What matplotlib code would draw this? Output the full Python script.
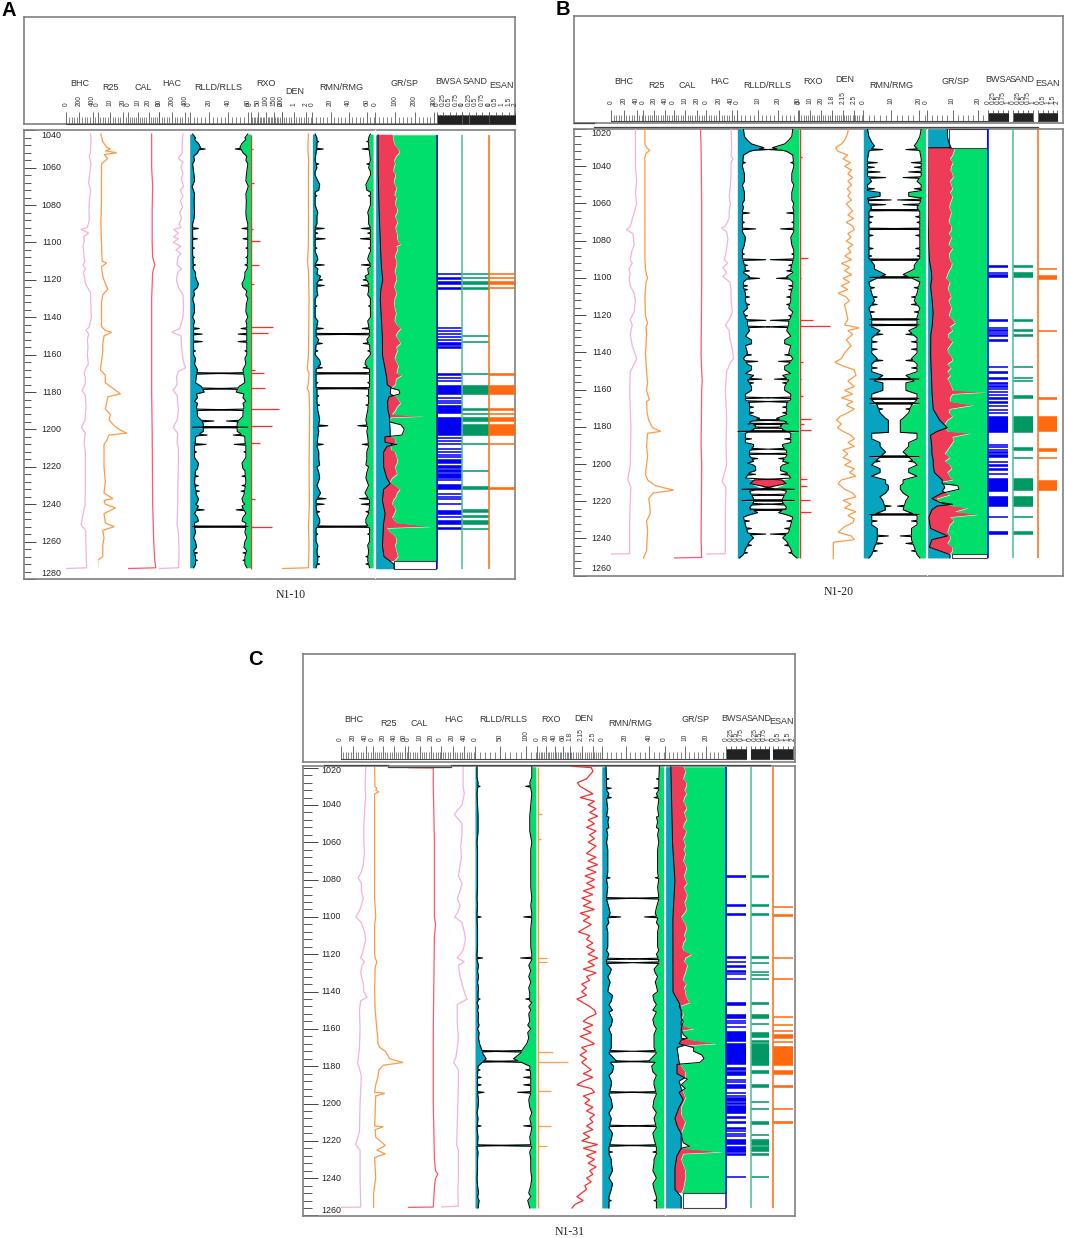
import numpy as np
import matplotlib
matplotlib.use('Agg')
import matplotlib.pyplot as plt
from matplotlib.lines import Line2D
from matplotlib.patches import Rectangle
from matplotlib.ticker import MultipleLocator

plt.rcParams['font.family'] = ['Liberation Sans', 'DejaVu Sans']

W, H = 1065, 1238
TEAL, GREEN, RED_FILL = '#08A3BF', '#00DF6C', '#EE3B58'
PINK, ORANGE, RED, CAL_RED = '#F8B0DA', '#FF9A45', '#FF2A2A', '#FF5A68'
BLUE, SAND_G, ESAN_O = '#0000F0', '#009966', '#FF6A10'

# well N1-10: (depth, value) vertices
A_BHC = [(1042,370),(1046,375),(1052,365),(1054,350),(1058,375),(1062,360),(1068,340),(1072,370),(1078,350),(1082,345),(1088,350),(1092,320),(1093,225),(1095,340),(1097,260),(1099,275),(1102,255),(1105,265),(1108,270),(1110,285),(1112,255),(1114,290),(1116,260),(1119,280),(1122,290),(1127,370),(1130,370),(1140,380),(1145,350),(1147,300),(1149,340),(1152,320),(1156,330),(1160,320),(1165,335),(1168,290),(1170,270),(1172,290),(1176,285),(1179,240),(1182,290),(1188,300),(1195,285),(1199,230),(1202,290),(1207,270),(1212,290),(1220,290),(1232,290),(1240,285),(1251,225),(1254,295),(1262,300),(1270,305),(1274,310),(1274.4,0)]
A_R25 = [(1042,2.5),(1046,4),(1049,7),(1050,10),(1051,6),(1052,15),(1053,5),(1055,8),(1058,3),(1070,3),(1078,3),(1090,2.5),(1100,3),(1110,3.5),(1111,7),(1113,3),(1118,4),(1122,6),(1125,8),(1128,4),(1132,3),(1140,3),(1145,3),(1147,6),(1148,11),(1150,5),(1154,4),(1158,4),(1164,3),(1168,2),(1171,6),(1175,6),(1178,12),(1181,18),(1182.5,8),(1186,7),(1189,6),(1192,10),(1195,9),(1198,13),(1200,17),(1202,23),(1203,9),(1206,7),(1208,5),(1212,5),(1220,5),(1228,6),(1234,5),(1237,12),(1238,5),(1240,6),(1242,14),(1245,5),(1250,6),(1252,13),(1254,4),(1258,5),(1262,4),(1268,4),(1270,0),(1274,0)]
A_CAL = [(1042,23),(1060,23),(1070,24),(1082,23.5),(1100,23.5),(1108,24),(1112,26),(1116,24),(1130,23),(1180,23),(1200,23.5),(1240,24),(1260,25),(1270,26),(1274,27),(1274.4,0)]
A_HAC = [(1042,370),(1048,355),(1052,360),(1055,300),(1057,365),(1060,340),(1063,370),(1066,345),(1070,380),(1072,330),(1075,370),(1078,330),(1081,365),(1084,320),(1087,350),(1090,310),(1092,340),(1093,225),(1095,300),(1097,225),(1098,300),(1100,220),(1102,340),(1104,260),(1106,340),(1108,290),(1112,280),(1114,350),(1116,290),(1120,270),(1124,300),(1128,370),(1134,380),(1140,370),(1146,320),(1148,200),(1150,340),(1156,350),(1160,360),(1164,380),(1167,410),(1169,300),(1172,270),(1176,280),(1179,220),(1182,280),(1190,300),(1195,280),(1199,220),(1202,290),(1207,280),(1210,300),(1220,300),(1230,290),(1240,290),(1251,280),(1255,300),(1265,310),(1274,300),(1274.4,0)]
A_RLLD = [(1042,3),(1045,5),(1047,9),(1049,11),(1050,16),(1052,8),(1054,4),(1058,3),(1070,2.5),(1090,3),(1092.5,9),(1094,3),(1097,3),(1098,8),(1100,3),(1106,3),(1110,3.5),(1112,6),(1114,3.5),(1118,6),(1120,7),(1122,9),(1124,8),(1126,4),(1130,3),(1140,3),(1144,4),(1146,10),(1147,4),(1149,13),(1150,4),(1153,13),(1155,4),(1160,4),(1165,5),(1168,8),(1170,40),(1171,7),(1175,6),(1177,12),(1178.2,40),(1180,15),(1181,7),(1185,5),(1188,7),(1189.5,40),(1191,8),(1193,8),(1195,12),(1195.5,25),(1197,14),(1198.5,14),(1198.8,60),(1199.2,14),(1201,14),(1203,18),(1204,6),(1206,6),(1208,17),(1209,5),(1215,5),(1222,6),(1228,5),(1232,6),(1235,7),(1240,6),(1243,15),(1245,5),(1250,5),(1252,60),(1252.5,5),(1258,4),(1265,4),(1268,6),(1272,6),(1274,4)]
A_RLLD_RAG = [(1044,6),(1056,5),(1064,4.5),(1067,5),(1074,5),(1078,4.5),(1084,5),(1087,4.5),(1103,5),(1108,5),(1116,6),(1128,5),(1133,4.5),(1137,5),(1142,5),(1158,6),(1162,6),(1183,8),(1186,8),(1212,7),(1218,9),(1221,8),(1225,9),(1230,9),(1233,10),(1237,9),(1239,8),(1241,9),(1247,8),(1249,9),(1255,6),(1260,6),(1263,7),(1266,8),(1270,8)]
A_RMN = [(1042,3),(1044,5),(1046,7),(1048,5),(1050,12),(1052,4),(1056,3),(1062,3),(1064,3),(1072,7),(1073,3),(1080,3),(1092,3),(1092.5,13),(1094,3),(1097.5,3),(1098,14),(1099,3),(1105,3),(1111.5,3),(1112,13),(1113,3),(1117,5),(1120,11),(1122,5),(1123,13),(1126,5),(1130,3),(1140,3),(1146,12),(1147,4),(1149,60),(1150,4),(1154,11),(1155,4),(1160,3),(1167,11),(1168,4),(1170,60),(1171,4),(1177.5,4),(1178,60),(1179,5),(1185,5),(1190,6),(1198,17),(1199,6),(1204,6),(1208,12),(1209,5),(1220,5),(1230,5),(1237,15),(1238,4),(1240,13),(1241,4),(1245,5),(1248,8),(1252,60),(1253,4),(1260,4),(1265,5),(1270,6),(1274,4)]
A_RMN_RAG = [(1058,7),(1060,5),(1066,5),(1069,8),(1075,5),(1084,6),(1086,5),(1090,5),(1095,6),(1103,5),(1107,5),(1109,6),(1114,6),(1118,9),(1128,6),(1134,5),(1142,6),(1152,7),(1158,6),(1163,8),(1165,9),(1175,6),(1182,7),(1187,8),(1192,7),(1195,8),(1201,7),(1212,7),(1216,7),(1219,8),(1223,7),(1226,8),(1232,7),(1234,9),(1244,8),(1250,8),(1256,6),(1262,6),(1268,8),(1272,8)]
A_RXO_D = [1050,1068,1093,1099,1112,1122,1145,1148.6,1168,1170,1178,1189,1198,1207,1237,1252]
A_RXO_V = [15,24,15,58,56,20,143,113,26,90,92,183,137,61,32,137]
A_DEN = [(1042,2.2),(1050,2.15),(1056,2.22),(1060,2.2),(1080,2.2),(1100,2.2),(1106,2.16),(1110,2.12),(1115,2.2),(1130,2.25),(1150,2.22),(1160,2.2),(1168,2.1),(1170,2.25),(1176,2.18),(1178,2.1),(1180,2.25),(1190,2.3),(1220,2.25),(1240,2.28),(1252,2.2),(1262,2.25),(1274,2.2),(1274.4,0)]
A_SP = [(1042,14),(1060,14),(1080,18),(1100,26),(1112,30),(1120,38),(1125,28),(1130,25),(1140,30),(1150,36),(1160,36),(1168,50),(1172,58),(1176,60),(1178,85),(1179,120),(1181,125),(1182.5,70),(1185,62),(1190,64),(1192,70),(1196,74),(1197.5,130),(1200,147),(1203,135),(1204,48),(1207,50),(1208,110),(1209,60),(1212,42),(1220,42),(1226,58),(1229,75),(1232,42),(1238,36),(1245,50),(1250,42),(1254,40),(1262,36),(1268,44),(1272,95),(1274.5,95)]
A_GR = [(1042,88),(1044,90),(1046,94),(1048,100),(1050,118),(1052,122),(1054,105),(1056,96),(1060,94),(1063,100),(1066,96),(1070,104),(1073,100),(1076,108),(1080,102),(1084,110),(1087,104),(1090,110),(1094,106),(1098,110),(1100,118),(1101,130),(1102,108),(1106,104),(1110,108),(1114,102),(1118,106),(1122,100),(1126,104),(1130,98),(1136,100),(1140,100),(1144,108),(1146,130),(1148,112),(1152,118),(1154,128),(1156,106),(1160,104),(1164,108),(1168,112),(1171,135),(1173,105),(1176,102),(1178,78),(1181,76),(1183,110),(1186,128),(1188,110),(1190,100),(1192,85),(1193,246),(1193.6,80),(1196,72),(1198,74),(1204,76),(1205,100),(1207,105),(1208,82),(1209,78),(1211,80),(1214,105),(1218,110),(1222,105),(1226,85),(1228,75),(1232,125),(1234,110),(1238,90),(1241,95),(1244,100),(1247,85),(1250,110),(1252,280),(1252.8,60),(1255,75),(1258,105),(1264,105),(1268,115),(1270.4,95)]
A_GR_RAG = [(1058,100),(1062,92),(1065,102),(1068,94),(1072,106),(1075,98),(1078,102),(1082,112),(1086,100),(1089,112),(1092,102),(1096,112),(1104,112),(1108,100),(1112,108),(1116,98),(1120,108),(1124,96),(1128,106),(1133,96),(1138,106),(1142,98),(1150,104),(1158,112),(1162,98),(1166,116),(1170,108),(1212,100),(1216,112),(1220,100),(1224,110),(1236,104),(1240,86),(1243,104),(1246,92),(1249,100),(1256,90),(1260,108),(1262,100),(1266,110)]
A_BLANK = [(1270.4,1274.6,95,307)]
A_BWSA = [(1116.2,1117),(1118.5,1119.3),(1120.5,1122),(1123.6,1125),(1145.2,1146),(1147,1147.6),(1148.4,1149),(1150,1150.6),(1151.6,1152.2),(1153.2,1154.6),(1155.4,1156.4),(1170,1171),(1172,1172.6),(1173.4,1174),(1176.2,1181.2),(1182.6,1183.2),(1184,1184.6),(1185.4,1186),(1186.8,1188.4),(1188.8,1191.4),(1193.4,1203.2),(1204,1204.8),(1205.8,1206.4),(1207,1207.6),(1210,1210.6),(1211.4,1212),(1213,1213.6),(1214.4,1215),(1216,1218),(1219,1220.4),(1221,1222.6),(1223.2,1225.8),(1226.6,1227),(1229.2,1231.6),(1234,1234.6),(1235.4,1236),(1236.8,1237.4),(1239.2,1240),(1243,1245),(1246.4,1247),(1248.6,1250.6),(1252.4,1253.2)]
A_SAND = [(1116.2,1117),(1118.6,1119.2),(1120.6,1122),(1123.6,1125),(1149.3,1150),(1152.7,1153.3),(1170,1170.6),(1176.2,1181.2),(1188.8,1189.5),(1191.3,1192),(1193.4,1195.7),(1197.3,1203),(1207,1208),(1221.7,1222.3),(1230.5,1231.6),(1242.6,1244.2),(1246,1246.8),(1248.6,1250.8),(1252.6,1253.3)]
A_ESAN = [(1116.2,1117),(1118.6,1119.2),(1120.6,1122),(1123.6,1124.4),(1170,1170.8),(1176.2,1181.2),(1188.8,1189.8),(1191.4,1192),(1193.4,1195.7),(1197.3,1203),(1207,1208),(1230.6,1231.6)]

# well N1-20
B_BHC = [(1020,38),(1030,38),(1040,38),(1048,40),(1054,38),(1060,40),(1066,35),(1072,30),(1074,24),(1076,34),(1082,36),(1086,32),(1090,30),(1092,33),(1095,28),(1098,30),(1100,28),(1104,30),(1108,36),(1112,38),(1118,36),(1122,30),(1125,33),(1130,30),(1136,33),(1140,37),(1143,40),(1146,36),(1150,30),(1160,29),(1170,30),(1180,31),(1200,30),(1208,26),(1212,31),(1220,30),(1230,29),(1240,29),(1247.5,29),(1247.7,0)]
B_R25 = [(1020,3),(1028,3),(1030,6),(1031.5,12),(1033,5),(1035,3),(1060,3),(1080,3),(1090,3),(1095,4),(1098,6),(1100,8),(1102,5),(1110,3),(1120,4),(1124,8),(1126,5),(1130,6),(1136,5),(1140,4),(1150,6),(1156,8),(1160,6),(1165,11),(1166,6),(1172,7),(1176,10),(1180,17),(1182,32),(1183,8),(1190,6),(1195,8),(1200,6),(1205,4),(1208,8),(1211,22),(1213.5,56),(1215,18),(1218,10),(1222,12),(1226,13),(1230,6),(1235,8),(1240,7),(1246,6),(1250,0)]
B_CAL = [(1020,23),(1030,23.5),(1060,24),(1100,24),(1105,24),(1140,23.5),(1150,24),(1155,24.5),(1160,24),(1190,23.5),(1200,24),(1240,23.5),(1249.5,24),(1249.8,0)]
B_HAC = [(1020,39),(1030,40),(1034,39),(1036,42),(1038,39),(1044,39),(1050,38),(1056,36),(1060,38),(1064,36),(1068,36),(1072,30),(1073,24),(1075,32),(1079,34),(1084,32),(1088,30),(1090,28),(1092,34),(1094,26),(1097,32),(1099,26),(1102,37),(1106,39),(1112,39),(1118,41),(1122,36),(1125,30),(1128,36),(1132,37),(1138,41),(1143,43),(1145,38),(1150,32),(1160,30),(1175,32),(1190,31),(1200,32),(1209,25),(1212,31),(1225,30),(1240,30),(1247.5,30),(1247.7,0)]
B_RLLD = [(1020,3),(1024,3.5),(1026,5),(1028,7),(1030,13),(1031,15),(1032,6),(1034,3),(1040,2.5),(1050,2.5),(1060,2.5),(1064,2.5),(1065,6),(1066,2.5),(1072,2.5),(1073.5,9),(1075,2.5),(1085,2.5),(1089,2.5),(1090,14),(1091,3),(1095,4),(1096,6),(1097,3),(1099,6),(1100,11),(1102,3),(1105,3),(1108,4),(1112,4),(1118,3),(1121,4),(1122.5,14),(1123,5),(1125,5),(1126,16),(1128,6),(1131,4),(1133,7),(1136,4),(1140,5),(1143,3),(1144.5,10),(1146,5),(1149,7),(1151,4),(1154,12),(1154.5,5),(1158,7),(1162,4),(1164,16),(1165,4),(1166,16),(1167,6),(1170,6),(1173,6),(1175,11),(1176,18),(1177,6),(1178,25),(1179,9),(1180,20),(1181,8),(1182,30),(1183,4),(1188,4),(1190,8),(1191.5,15),(1192.5,6),(1194,18),(1195,6),(1196.5,10),(1199,5),(1201,9),(1204,6),(1207,4),(1208,22),(1210,24),(1213,28),(1214,6),(1216,20),(1218,8),(1219,28),(1220,8),(1221,16),(1223,6),(1224,24),(1225.5,10),(1228,3),(1232,4),(1236,5),(1237,14),(1239,8),(1241,6),(1245,4),(1248,3),(1249.8,1)]
B_RLLD_RAG = [(1038,4),(1044,3.5),(1048,3.5),(1054,3.5),(1058,3.5),(1062,3),(1070,3.5),(1078,4),(1082,3.5),(1087,3.5),(1093,5),(1104,5),(1106,5),(1110,6),(1114,6),(1116,5),(1120,5),(1135,7),(1141,7),(1147,7),(1152,8),(1156,8),(1160,7),(1169,8),(1172,8),(1186,7),(1189,8),(1198,8),(1200,8),(1203,9),(1205,9),(1227,5),(1230,6),(1234,7),(1243,7),(1247,5)]
B_RMN = [(1020,1.5),(1024,2),(1027,3),(1029,4),(1031,7),(1032,2),(1036,1.5),(1040,1.5),(1040.5,4),(1041,1.5),(1045,1.5),(1048,3),(1050,1.5),(1052,4),(1053,1.5),(1056,6),(1057,1.5),(1060,2),(1062,3),(1063.5,20),(1064.5,2),(1068,2),(1073,2),(1073.5,20),(1074.5,2),(1080,2),(1086,2),(1089.5,2),(1090,20),(1091,3),(1095,4),(1096.5,6),(1098,8),(1099.5,20),(1100.5,4),(1102,2),(1108,3),(1112,4),(1116,2),(1121,3),(1122,20),(1123,3),(1125,20),(1126,3),(1128,6),(1130,7),(1132,3),(1134,5),(1136,3),(1140,3),(1143,5),(1144,7),(1146,3),(1150,3),(1152,7),(1154,20),(1155,4),(1158,7),(1162,3),(1164.5,20),(1165,3),(1167,20),(1168,5),(1172,6),(1175,8),(1176,9),(1180,9),(1182.5,9),(1183,3),(1186,3),(1190,6),(1193,8),(1195.5,20),(1197,5),(1200,3),(1204,6),(1206,3),(1208,8),(1211,9),(1215,8),(1217,6),(1219,7),(1222,10),(1224,8),(1226.5,20),(1227,3),(1232,3),(1236,5),(1238,9),(1240,5),(1244,4),(1248,3),(1249.8,2)]
B_RMN_RAG = [(1038,5),(1043,6),(1046,8),(1054,6),(1058,10),(1060.5,8),(1067,3.5),(1070,3),(1077,3.5),(1084,3.5),(1088,3),(1093,4),(1105,4),(1110,5),(1114,5),(1118,4),(1138,5),(1148,5),(1156,7),(1160,7),(1170,7),(1188,6),(1198,6),(1202,6),(1210,8),(1213,9),(1230,5),(1234,5),(1242,7),(1246,5)]
B_RXO_D = [1035,1060,1089,1100,1122.3,1125.4,1145,1154,1163,1175.4,1178,1181,1207.5,1211,1219,1225.4]
B_RXO_V = [2.5,1,8,2,13,28,3,2,3,11,4,11,7,7,10,11]
B_DEN = [(1020,2.32),(1023,2.28),(1026,2.2),(1028,2.1),(1030,1.92),(1032,2.0),(1034,2.3),(1036,2.15),(1038,2.38),(1040,2.2),(1042,2.42),(1044,2.3),(1046,2.45),(1048,2.3),(1050,2.42),(1052,2.28),(1054,2.38),(1056,2.3),(1058,2.42),(1060,2.25),(1062,2.35),(1064,2.45),(1066,2.3),(1068,2.48),(1070,2.25),(1072,2.45),(1074,2.5),(1076,2.3),(1078,2.4),(1080,2.25),(1082,2.45),(1084,2.3),(1086,2.4),(1088,2.2),(1090,2.42),(1092,2.1),(1094,2.35),(1096,2.2),(1098,2.42),(1100,2.15),(1102,2.35),(1104,2.1),(1106,2.3),(1108,2.0),(1110,2.25),(1112,2.35),(1114,2.2),(1118,2.25),(1122,2.3),(1125,2.2),(1126.5,2.65),(1128,2.3),(1130,2.45),(1133,2.25),(1136,2.4),(1140,2.2),(1143,2.1),(1145,1.9),(1147,2.15),(1149,2.5),(1152,2.55),(1155,2.3),(1158,2.5),(1160,2.2),(1162,2.45),(1164,2.1),(1166,2.45),(1168,2.25),(1170,2.5),(1172,2.3),(1174,2.05),(1176,1.95),(1178,2.1),(1180,1.98),(1182,2.15),(1184,2.4),(1186,2.5),(1188,2.3),(1190,2.5),(1192,2.15),(1194,2.3),(1196,2.15),(1198,2.4),(1200,2.2),(1202,2.5),(1204,2.35),(1206,2.55),(1208,2.1),(1210,2.0),(1213,2.2),(1215,2.45),(1217,2.55),(1219,2.15),(1221,2.4),(1223,2.2),(1225,2.55),(1227,2.3),(1229,2.5),(1231,2.45),(1233,2.2),(1236,2.0),(1238,2.4),(1240,2.5),(1241.4,1.85),(1250,1.85)]
B_SP = [(1020,8),(1024,8),(1027,8.5),(1030,9.5),(1030.1,0.4),(1060,0.5),(1080,0.7),(1090,1),(1096,1.8),(1100,2),(1104,1.5),(1110,2),(1118,2.5),(1125,2.2),(1130,1.6),(1140,1.5),(1150,1.8),(1160,2),(1170,2.5),(1176,5),(1180,8),(1182,4),(1184,1.5),(1190,2),(1194,2),(1197,2.5),(1200,2.5),(1204,3),(1208,6),(1210,6),(1211,12),(1213,12.5),(1215,6),(1218,2),(1220,5),(1221,10),(1222,4),(1224,2),(1228,0.8),(1234,1.5),(1238,8),(1240,2),(1244,1),(1248,9),(1250,9)]
B_GR = [(1030,11),(1034,10),(1040,9.5),(1044,10),(1050,9.5),(1056,10),(1060,9),(1065,9.5),(1070,8.5),(1074,9.5),(1080,9),(1085,9.5),(1090,9),(1094,9.5),(1098,8),(1100,7.5),(1104,8.5),(1108,9),(1112,8.5),(1118,9),(1122,10),(1124,11),(1126,9),(1132,8.5),(1136,9),(1140,8.5),(1144,10),(1146,8),(1150,8),(1156,9),(1160,10),(1161,23),(1162,10),(1164,9),(1166,9),(1168,18),(1170,9),(1174,10),(1176,8),(1178,7),(1182,8),(1183,17),(1185,10),(1190,9),(1194,7),(1196,9),(1198,7),(1200,9),(1204,8),(1208,10),(1209,6),(1214,6),(1216,9),(1218,4),(1220,5),(1222,10),(1223,16),(1225,11),(1226.5,20),(1228,9),(1232,9),(1236,8),(1238,9),(1240,9),(1243,9),(1246,10),(1247.7,9)]
B_GR_RAG = [(1032,10.5),(1036,9),(1038,10.2),(1042,9.2),(1046,10.2),(1048,9),(1052,10),(1054,9),(1058,9.6),(1062,8.8),(1067,9),(1072,9.6),(1076,8.6),(1078,9.6),(1082,8.5),(1084,10),(1087,8.6),(1092,9.8),(1096,8.6),(1102,9),(1106,8.2),(1110,9.4),(1116,9.6),(1120,8.6),(1128,10),(1130,8.2),(1134,10),(1138,8),(1142,9.6),(1148,9.4),(1152,9.2),(1154,8),(1158,9.6),(1172,8.6),(1187,10.5),(1192,8),(1202,9.6),(1206,8.8),(1212,7),(1230,10.5),(1234,8.5),(1242,8),(1244,10)]
B_BLANK = [(1020,1030,8.5,23.2),(1247.7,1250,9.7,23.2)]
B_BWSA = [(1093,1093.8),(1096.4,1097.4),(1097.8,1099.5),(1122,1122.8),(1125.9,1126.8),(1127.4,1128),(1128.6,1129.2),(1129.8,1130.8),(1132.6,1133.4),(1146.8,1147.6),(1149.4,1150.8),(1152.6,1154),(1155.7,1156.5),(1157.4,1158),(1158.8,1159.4),(1160.4,1161),(1162,1162.6),(1163.8,1164.6),(1165.6,1166.6),(1168,1168.6),(1170,1170.6),(1171.6,1172.4),(1173.6,1182.2),(1188.7,1189.4),(1190,1190.6),(1191.2,1192),(1192.6,1193.4),(1194,1195.9),(1197.6,1198.2),(1199.6,1200.4),(1201.8,1202.6),(1204.2,1204.8),(1207,1213.8),(1216.4,1222),(1227.2,1228),(1235.2,1237)]
B_SAND = [(1093,1093.8),(1096.4,1099.5),(1122,1122.8),(1127.4,1128),(1129.8,1130.8),(1146.8,1147.6),(1152.6,1153.4),(1154.5,1155.2),(1162.6,1164),(1173.6,1182.2),(1190.4,1192),(1195.6,1196.2),(1207,1213.4),(1216.4,1221.8),(1227.2,1228),(1235.4,1237)]
B_ESAN = [(1094.2,1095),(1098.4,1100.2),(1127.6,1128.4),(1163.6,1164.4),(1174,1181.6),(1191,1192.4),(1195.8,1196.4),(1208,1213.4)]

# well N1-31
C_BHC = [(1020,40),(1030,39),(1036,40),(1040,39),(1045,38),(1052,37),(1060,37),(1066,38),(1072,36),(1076,33),(1079,28),(1082,33),(1086,33),(1090,36),(1095,32),(1098,28),(1100,24),(1103,33),(1108,38),(1112,40),(1118,36),(1122,32),(1124,38),(1126,34),(1130,32),(1136,36),(1140,37),(1143,42),(1145,32),(1150,30),(1160,31),(1170,30),(1176,28),(1178,27),(1185,33),(1200,31),(1215,30),(1222,24),(1225,31),(1240,31),(1254,32),(1255.5,32),(1255.7,0)]
C_R25 = [(1020,4),(1030,4.5),(1031,8),(1032,6),(1033,12),(1034,4),(1060,4),(1090,4),(1100,6),(1104,4),(1120,4),(1122,5),(1124,8),(1127,5),(1140,4),(1150,5),(1160,8),(1165,10),(1168,10),(1170,14),(1172,24),(1174,28),(1176,32),(1178,57),(1179.5,20),(1182,12),(1186,10),(1190,6),(1194,4),(1194.5,23),(1196,6),(1205,5),(1212,4),(1212.5,20),(1214,5),(1218,6),(1222.5,24),(1225,8),(1227,24),(1229,4),(1240,6),(1248,2),(1255.7,2)]
C_CAL = [(1020,0),(1020.2,22),(1030,22),(1060,23),(1080,23),(1100,23),(1104,24),(1110,23),(1160,22),(1200,22),(1230,23),(1236,24),(1238,26),(1240,24),(1245,23),(1255.5,22),(1255.7,0)]
C_HAC = [(1020,38),(1030,38),(1034,40),(1040,36),(1045,23),(1050,36),(1056,36),(1062,34),(1068,35),(1074,32),(1078,30),(1082,36),(1086,33),(1090,28),(1094,33),(1098,28),(1100,24),(1103,36),(1108,40),(1112,42),(1118,38),(1122,28),(1124,40),(1126,30),(1132,33),(1138,38),(1142,42),(1144,45),(1147,28),(1156,28),(1165,30),(1175,26),(1178,22),(1182,30),(1190,30),(1200,29),(1212,28),(1222,27),(1225,30),(1240,30),(1248,29),(1255,30),(1255.5,0)]
C_RLLD = [(1019.5,4),(1025,4),(1028,6),(1030,10),(1031,5),(1034,4),(1060,4),(1090,4),(1098,4),(1100,12),(1101,4),(1120,4),(1122,15),(1123,4),(1135,5),(1145,6),(1146,4),(1150,5),(1160,5),(1165,7),(1168,9),(1171,13),(1172,52),(1173,15),(1176,22),(1177.5,52),(1178.5,12),(1180,6),(1185,5),(1186,12),(1187,5),(1190,12),(1191,5),(1194,18),(1194.6,5),(1205,4),(1212,12),(1213,4),(1222,5),(1222.5,52),(1223.5,4),(1240,4),(1250,5),(1254,7),(1256,6)]
C_RLLD_RAG = [(1040,5),(1046,6),(1054,6),(1064,5),(1070,5),(1076,5),(1084,5),(1094,5),(1106,5),(1112,5),(1116,5),(1126,7),(1129,5),(1132,7),(1138,7),(1141,6),(1144,10),(1148,7),(1152,7),(1156,6),(1158,8),(1162,8),(1182,10),(1198,7),(1202,6),(1208,6),(1216,5),(1218,6),(1226,6),(1230,5),(1236,5),(1244,5),(1248,7),(1252,8)]
C_RMN = [(1019.5,3.5),(1028,4),(1031,8),(1032,4),(1036,8),(1037,4),(1046,4),(1046.5,6),(1052,6),(1053,4),(1060,4),(1076,5),(1079,7),(1080,4),(1089.5,4),(1090,30),(1090.5,4),(1095,6),(1100,16),(1101,5),(1105,4),(1118,4),(1122.5,30),(1123,4),(1124.5,26),(1125,4),(1130,7),(1132,5),(1140,5),(1145,8),(1147,6),(1150,9),(1151,6),(1160,6),(1170,8),(1172,26),(1173,6),(1177,12),(1177.5,30),(1178,7),(1185,6),(1190,8),(1194,30),(1195,6),(1205,6),(1212,30),(1213,6),(1222.5,30),(1223.5,6),(1226,9),(1227,6),(1240,6),(1250,6),(1256,6)]
C_RMN_RAG = [(1026,6),(1034,6),(1042,5),(1049,5),(1056,5),(1064,5),(1068,5),(1072,5),(1084,5),(1098,7),(1103,6),(1108,5),(1112,5),(1116,5),(1120,6),(1128,8),(1135,7),(1137,6),(1142,9),(1149,8),(1155,9),(1158,8),(1163,8),(1166,8),(1175,9),(1180,10),(1183,9),(1188,8),(1198,8),(1202,9),(1208,8),(1216,9),(1219,8),(1230,8),(1232,8),(1236,9),(1243,9),(1246,8),(1252,8)]
C_RXO_D = [1045,1058.4,1121.8,1124,1144,1172.3,1177.5,1193.4,1212,1222.7]
C_RXO_V = [11,8,23,22,5,36,70,32,32,23]
C_DEN_D = [1019.2] + list(range(1020, 1258, 2))
C_DEN_V = [1.85,
           2.45,2.5,2.4,2.3,2.02,2.1,2.3,2.5,2.1,2.55,
           2.35,2.6,2.4,2.65,2.35,2.55,2.3,2.6,2.4,2.55,
           2.35,2.6,2.45,2.3,2.6,2.35,2.65,2.3,2.6,2.25,
           2.55,2.3,2.55,2.2,2.5,2.15,2.45,2.2,2.55,2.1,
           2.4,2.2,2.45,2.25,2.05,2.4,2.3,2.5,2.3,2.55,
           2.35,2.65,2.35,2.55,2.2,2.6,2.3,2.4,2.15,2.3,
           2.15,2.3,2.0,2.2,2.4,2.55,2.6,2.35,2.2,2.5,
           2.2,2.45,2.1,2.35,2.55,2.15,2.3,2.1,2.3,2.15,
           2.3,2.45,2.2,2.5,2.2,2.0,2.45,2.55,2.2,2.4,
           2.25,2.5,2.3,2.55,2.4,2.5,2.3,2.5,2.2,2.4,
           2.15,2.65,2.2,2.6,2.3,2.55,2.35,2.6,2.4,2.5,
           2.3,2.45,2.25,2.3,2.15,2.0,2.2,1.95,1.85]
C_SP = [(1019.5,3),(1060,3.8),(1080,5),(1100,4),(1120,4),(1130,4),(1140,4),(1146,7),(1150,8),(1154,8),(1156,9),(1160,8),(1163,9),(1165,11),(1166,8),(1168,7),(1170,14),(1172,14),(1174,18),(1176,19),(1178,17),(1179,6),(1184,6),(1187,11),(1190,8),(1192,10),(1194,7),(1198,9),(1202,7),(1208,5),(1212,6),(1216,8),(1221,9),(1223,12),(1224,8),(1228,6),(1234,5),(1240,5),(1246,5),(1250,8),(1251,8)]
C_GR = [(1019.5,9),(1024,9.5),(1030,10.5),(1036,9.5),(1040,10),(1046,10),(1052,9),(1056,10),(1060,9.5),(1068,9.5),(1074,10.5),(1080,10),(1086,10),(1090,10.5),(1094,10),(1098,9.5),(1100,8),(1104,10),(1108,10),(1114,9),(1118,9),(1120,13),(1122,10),(1126,11),(1130,10),(1134,9),(1140,10),(1144,11),(1146,12),(1148,7),(1152,9),(1156,8),(1158,8),(1160,14),(1161,8),(1165,8),(1168,25),(1169,9),(1170,6),(1178,7),(1180,8),(1183,10),(1186,10),(1188,7),(1192,8),(1194,9),(1197,10),(1202,8),(1206,8),(1210,10),(1213,9),(1216,8),(1220,8),(1224,8),(1226,28),(1227,9),(1230,8),(1236,10),(1240,10),(1246,9),(1248,8)]
C_GR_RAG = [(1022,10.2),(1026,9),(1028,10.6),(1032,9.6),(1034,10.6),(1038,9),(1042,10.6),(1044,9.4),(1048,10.6),(1050,9.4),(1054,10.4),(1058,9),(1062,10),(1064,9.2),(1066,10),(1070,9),(1072,10),(1076,10),(1078,9.4),(1082,10.8),(1084,9.4),(1088,10.8),(1092,9.6),(1096,10.6),(1102,9),(1106,10.6),(1110,9.4),(1112,10.2),(1116,8.6),(1124,9.5),(1128,10.4),(1132,9.2),(1136,10.4),(1138,9.4),(1142,10.2)]
C_BLANK = [(1248,1256,9,30.9)]
C_BWSA = [(1077.7,1078.4),(1093.2,1094.2),(1098,1099),(1121,1121.8),(1123.8,1124.4),(1126,1126.8),(1128.6,1129.4),(1130,1130.8),(1132.6,1133.4),(1145.5,1147.3),(1151.8,1154.2),(1155,1155.8),(1156.4,1157),(1158.2,1159),(1161,1166.6),(1167.4,1178.6),(1180.4,1182),(1182.6,1184.8),(1186.6,1187.4),(1188,1188.4),(1189.6,1191.6),(1193.8,1194.4),(1195.2,1196),(1196.6,1198.8),(1199.4,1200),(1201,1205.2),(1206.8,1207.6),(1209.4,1210.6),(1212.6,1213.4),(1214,1215),(1215.6,1216.4),(1216.8,1217.2),(1218.8,1221.8),(1222.8,1226),(1226.8,1227.4),(1238.6,1239.4)]
C_SAND = [(1077.7,1078.4),(1093.2,1094.2),(1098,1099),(1121,1121.8),(1124,1124.6),(1129,1129.5),(1130.4,1131),(1132.6,1133.2),(1145.8,1146.6),(1152,1154),(1156.6,1157.2),(1161.6,1164.3),(1166,1166.8),(1167.6,1179.5),(1181.8,1183.8),(1189.6,1191.4),(1198.8,1199.4),(1202.2,1202.8),(1209.2,1211),(1216.4,1217),(1218.8,1222.2),(1222.8,1225.2),(1226.6,1227.4),(1238.6,1239.4)]
C_ESAN = [(1094,1094.8),(1098.6,1099.4),(1121.4,1122),(1132.8,1133.4),(1153,1153.8),(1157.2,1158),(1160.6,1161.4),(1162.6,1165),(1166.6,1167.2),(1169.2,1179.2),(1182,1184),(1190,1191.2),(1202.6,1203.2),(1209.4,1210.6)]

UNIT_TICKS = [0, 0.25, 0.5, 0.75, 1]
ESAN_TICKS = [0, 0.5, 1, 1.5, 2]

# track layout: title, title x, title y, x start, x end, x of last tick, ticks
A_TRACKS = [
    ('BHC', 79.8, 83, 66.3, 97.7, 92.6, [0, 200, 400]),
    ('R25', 110.5, 87, 97.7, 127.8, 123, [0, 10, 20]),
    ('CAL', 143, 87, 127.8, 158.9, 158.9, [0, 10, 20, 30]),
    ('HAC', 171.7, 83, 158.9, 189.7, 184.9, [0, 200, 400]),
    ('RLLD/RLLS', 218, 87, 189.7, 250.5, 247.8, [0, 20, 40, 60]),
    ('RXO', 266, 83, 250.5, 281.6, 281.6, [0, 50, 100, 150, 200]),
    ('DEN', 294.8, 91, 281.6, 312.4, 306, [0, 1, 2]),
    ('RMN/RMG', 340.8, 87, 312.4, 375.3, 366.8, [0, 20, 40, 60]),
    ('GR/SP', 404.3, 83, 375.3, 437.1, 434.4, [0, 100, 200, 300]),
    ('BWSA', 449, 81, 437.1, 462.1, 462.1, UNIT_TICKS),
    ('SAND', 475, 81, 462.1, 489.2, 489.2, UNIT_TICKS),
    ('ESAN', 501.7, 85, 489.2, 515.2, 515.2, ESAN_TICKS),
]
B_TRACKS = [
    ('BHC', 624, 82, 611, 643.3, 636.7, [0, 20, 40]),
    ('R25', 656.7, 86, 643.3, 673.7, 665, [0, 20, 40]),
    ('CAL', 687, 86, 673.7, 706.3, 697, [0, 10, 20]),
    ('HAC', 719.3, 82, 706.3, 737.3, 731.7, [0, 20, 40]),
    ('RLLD/RLLS', 767.3, 86, 737.3, 799.3, 798.3, [0, 10, 20, 30]),
    ('RXO', 812.7, 82, 799.3, 831.7, 821, [0, 10, 20]),
    ('DEN', 844.3, 80, 831.7, 863.3, 854.3, [1.8, 2.15, 2.5]),
    ('RMN/RMG', 891.7, 86, 863.3, 926.7, 919, [0, 10, 20]),
    ('GR/SP', 955.7, 82, 926.7, 988.3, 978.3, [0, 10, 20]),
    ('BWSA', 998.3, 80, 988.3, 1008.3, 1008.3, UNIT_TICKS),
    ('SAND', 1021.7, 80, 1013.3, 1032.7, 1032.7, UNIT_TICKS),
    ('ESAN', 1047, 84, 1038.3, 1057.3, 1057.3, ESAN_TICKS),
]
C_TRACKS = [
    ('BHC', 353.9, 720, 340.7, 372.5, 365.7, [0, 20, 40]),
    ('R25', 388.2, 724, 372.5, 408.2, 404.6, [0, 20, 40, 60]),
    ('CAL', 419.6, 724, 408.2, 440.7, 431, [0, 10, 20]),
    ('HAC', 453.6, 720, 440.7, 475, 464.3, [0, 20, 40]),
    ('RLLD/RLLS', 503.2, 720, 475, 537.1, 525.7, [0, 50, 100]),
    ('RXO', 551, 720, 537.1, 570.4, 563.2, [0, 20, 40, 60]),
    ('DEN', 583.9, 718, 570.4, 601.8, 592.9, [1.8, 2.15, 2.5]),
    ('RMN/RMG', 630.4, 724, 601.8, 664.6, 649.3, [0, 20, 40]),
    ('GR/SP', 695.4, 720, 664.6, 726.4, 706, [0, 10, 20]),
    ('BWSA', 734.6, 718, 726.4, 746, 746, UNIT_TICKS),
    ('SAND', 758.9, 718, 750.7, 769.3, 769.3, UNIT_TICKS),
    ('ESAN', 781.8, 722, 772.9, 792.9, 792.9, ESAN_TICKS),
]

A_DEPTHS = list(range(1040, 1281, 20))
B_DEPTHS = list(range(1020, 1261, 20))
C_DEPTHS = list(range(1020, 1261, 20))


fig = plt.figure(figsize=(W / 100, H / 100), dpi=100, facecolor='white')


def px_axes(x0, y0, x1, y1):
    return fig.add_axes([x0 / W, 1 - y1 / H, (x1 - x0) / W, (y1 - y0) / H])


def unzip(curve):
    arr = np.array(sorted(curve), dtype=float)
    return arr[:, 0], arr[:, 1]


def narrow_peaks(d, v, thr, half=0.4):
    # log spikes are one sample wide: pull the flanks in next to each peak
    out_d, out_v = [], []
    for i in range(len(d)):
        peak = 0 < i < len(d) - 1 and v[i] - max(v[i - 1], v[i + 1]) > thr
        if peak and d[i] - d[i - 1] > half:
            out_d.append(d[i] - half)
            out_v.append(np.interp(d[i] - half, [d[i - 1], d[i + 1]], [v[i - 1], v[i + 1]]))
        out_d.append(d[i])
        out_v.append(v[i])
        if peak and d[i + 1] - d[i] > half:
            out_d.append(d[i] + half)
            out_v.append(np.interp(d[i] + half, [d[i - 1], d[i + 1]], [v[i - 1], v[i + 1]]))
    return np.array(out_d), np.array(out_v)


def end_value(track):
    # value at the right edge of the track, from the first and last tick
    x0, x1, xlast, ticks = track[3], track[4], track[5], track[6]
    return ticks[0] + (x1 - x0) * (ticks[-1] - ticks[0]) / (xlast - x0)


def header_track(track, ytop, ybase, ylab_gap):
    ax = px_axes(track[3], ytop, track[4], ybase)
    ax.patch.set_alpha(0)
    ax.set_xlim(track[6][0], end_value(track))
    ax.set_yticks([])
    for s in ['top', 'left', 'right']:
        ax.spines[s].set_visible(False)
    ax.spines['bottom'].set_color('#444444')
    ax.spines['bottom'].set_linewidth(0.8)
    ticks = track[6]
    is_flag = track[0] in ('BWSA', 'SAND', 'ESAN')
    ax.set_xticks(ticks, [f'{t:g}' for t in ticks], rotation=90, fontsize=4.8, color='#333333')
    ax.xaxis.set_minor_locator(MultipleLocator((ticks[1] - ticks[0]) / (10 if is_flag else 5)))
    ax.tick_params(axis='x', which='major', direction='in', bottom=True, top=False, labelbottom=False,
                   labeltop=True, length=(ybase - ytop) * 0.72, width=0.6, color='#555555', pad=ylab_gap)
    ax.tick_params(axis='x', which='minor', direction='in', bottom=True,
                   length=(ybase - ytop) * (0.55 if is_flag else 0.4),
                   width=0.75 if is_flag else 0.5, color='#222222' if is_flag else '#555555')
    fig.text(track[1] / W, 1 - track[2] / H, track[0], ha='center', va='center', fontsize=6.5, color='#333333')


def track_axes(track, ybox, dlim):
    ax = px_axes(track[3], ybox[0], track[4], ybox[1])
    ax.set_xlim(track[6][0], end_value(track))
    ax.set_ylim(dlim[1], dlim[0])
    ax.set_axis_off()
    ax.patch.set_alpha(0)
    return ax


def line_track(track, ybox, dlim, depth, vals, color, lw=0.9):
    ax = track_axes(track, ybox, dlim)
    ax.plot(vals, depth, color=color, lw=lw, solid_joinstyle='miter')
    return ax


def mirror_track(track, ybox, dlim, curve, fill_end, factor=1.0):
    ax = track_axes(track, ybox, dlim)
    d, left = narrow_peaks(*unzip(curve), thr=0.02 * fill_end)
    right = fill_end - left * factor
    v0 = track[6][0]
    ax.fill_betweenx(d, v0, np.minimum(left, right), color=TEAL, lw=0)
    ax.fill_betweenx(d, np.maximum(left, right), fill_end, color=GREEN, lw=0)
    ax.fill_betweenx(d, left, right, where=left > right, color=RED_FILL, lw=0, interpolate=True)
    ax.plot(left, d, color='black', lw=0.75)
    ax.plot(right, d, color='black', lw=0.75)
    return ax


def rxo_track(track, ybox, dlim, span, spike_d, spike_v, base, color):
    ax = track_axes(track, ybox, dlim)
    ax.vlines(base, span[0], span[1], color=color, lw=1.0)
    ax.hlines(spike_d, base, spike_v, color=color, lw=0.9)
    return ax


def gr_track(track, ybox, dlim, span, sp_curve, gr_curve, blanks, fill_end):
    ax = track_axes(track, ybox, dlim)
    grid = np.arange(span[0], span[1] + 0.05, 0.1)
    sp_d, sp_v = unzip(sp_curve)
    gr_d, gr_v = unzip(gr_curve)
    sp = np.interp(grid, sp_d, sp_v)
    gr = np.interp(grid, gr_d, gr_v)
    has_gr = (grid >= gr_d[0]) & (grid <= gr_d[-1])
    low = np.where(has_gr, np.minimum(sp, gr), sp)
    ax.fill_betweenx(grid, 0, low, color=TEAL, lw=0)
    ax.fill_betweenx(grid, sp, gr, where=has_gr & (gr > sp), color=RED_FILL, lw=0)
    ax.fill_betweenx(grid, np.maximum(sp, gr), fill_end, where=has_gr, color=GREEN, lw=0)
    ax.plot(sp, grid, color='black', lw=0.7)
    ax.plot(np.where(has_gr & (sp > gr), gr, np.nan), grid, color='black', lw=0.7)
    for top, bot, xl, xr in blanks:
        ax.add_patch(Rectangle((xl, top), xr - xl, bot - top, facecolor='white', edgecolor='#444444', lw=0.8))
    ax.axvline(0, color='white', lw=1.6)
    return ax


def flag_track(track, ybox, dlim, span, bars, line_color, bar_color):
    ax = track_axes(track, ybox, dlim)
    ax.set_xlim(0, 1)
    ax.vlines(0, span[0], span[1], color=line_color, lw=1.1, clip_on=False)
    bars = np.array(bars)
    ax.barh((bars[:, 0] + bars[:, 1]) / 2, 1, height=bars[:, 1] - bars[:, 0], left=0,
            color=bar_color, edgecolor=bar_color, lw=0.4)
    return ax


def box_axes(x0, y0, x1, y1):
    ax = px_axes(x0, y0, x1, y1)
    ax.set_xticks([])
    ax.set_yticks([])
    for s in ax.spines.values():
        s.set_color('#808080')
        s.set_linewidth(1.2)
    return ax


def draw_well(tracks, hdr, box, dlim, depths, lab_x, tick_len, span, curves, den_color, rxo_color, rxo_base, factors, fill_ends, rules):
    # hdr is top, tick top, baseline, header bottom; box is x0, y0, x1, y1
    box_axes(box[0], hdr[0], box[2], hdr[3])
    main = box_axes(*box)
    main.set_ylim(dlim[1], dlim[0])
    main.set_yticks(depths)
    main.set_yticklabels([])
    main.yaxis.set_minor_locator(MultipleLocator(4))
    main.tick_params(axis='y', which='major', direction='in', length=tick_len * 0.72, width=0.7, color='#444444')
    main.tick_params(axis='y', which='minor', direction='in', length=tick_len * 0.42, width=0.7, color='#555555')
    frac = (lab_x - box[0]) / (box[2] - box[0])
    for d in depths:
        py = min(max(d, dlim[0] + 2.6), dlim[1] - 3.0)
        main.text(frac, py, str(d), transform=main.get_yaxis_transform(), ha='center', va='center',
                  fontsize=6.4, color='#222222')
    for t in tracks:
        header_track(t, hdr[1], hdr[2], 4.2)
    ybox = (box[1], box[3])
    line_track(tracks[0], ybox, dlim, *unzip(curves['BHC']), PINK)
    line_track(tracks[1], ybox, dlim, *unzip(curves['R25']), ORANGE)
    line_track(tracks[2], ybox, dlim, *unzip(curves['CAL']), CAL_RED)
    line_track(tracks[3], ybox, dlim, *unzip(curves['HAC']), PINK)
    mirror_track(tracks[4], ybox, dlim, curves['RLLD'], fill_ends[0], factors)
    rxo_track(tracks[5], ybox, dlim, span, curves['RXO'][0], curves['RXO'][1], rxo_base, rxo_color)
    line_track(tracks[6], ybox, dlim, curves['DEN'][0], curves['DEN'][1], den_color)
    mirror_track(tracks[7], ybox, dlim, curves['RMN'], fill_ends[1])
    gr_track(tracks[8], ybox, dlim, span, curves['SP'], curves['GR'], curves['BLANK'], fill_ends[2])
    flag_track(tracks[9], ybox, dlim, span, curves['BWSA'], BLUE, BLUE)
    flag_track(tracks[10], ybox, dlim, span, curves['SAND'], '#45BE96', SAND_G)
    flag_track(tracks[11], ybox, dlim, span, curves['ESAN'], ESAN_O, ESAN_O)
    for x0, x1, y, col in rules:
        fig.add_artist(Line2D([x0 / W, x1 / W], [1 - y / H, 1 - y / H], color=col, lw=0.9))


draw_well(A_TRACKS, (16.7, 112.3, 124.3, 124.3), (24, 130.3, 515.3, 579), (1040, 1280), A_DEPTHS, 51.7, 12,
          (1042.4, 1274.5),
          dict(BHC=A_BHC, R25=A_R25, CAL=A_CAL, HAC=A_HAC, RLLD=A_RLLD + A_RLLD_RAG, RMN=A_RMN + A_RMN_RAG,
               RXO=(A_RXO_D, A_RXO_V), DEN=unzip(A_DEN), SP=A_SP, GR=A_GR + A_GR_RAG, BLANK=A_BLANK,
               BWSA=A_BWSA, SAND=A_SAND, ESAN=A_ESAN),
          ORANGE, RED, 2, 1.0, (63, 67, 318), [])

draw_well(B_TRACKS, (16, 110, 121, 123.3), (573.7, 129, 1062.7, 575.7), (1020, 1259.3), B_DEPTHS, 601.7, 12,
          (1020, 1249.8),
          dict(BHC=B_BHC, R25=B_R25, CAL=B_CAL, HAC=B_HAC, RLLD=B_RLLD + B_RLLD_RAG, RMN=B_RMN + B_RMN_RAG,
               RXO=(B_RXO_D, B_RXO_V), DEN=unzip(B_DEN), SP=B_SP, GR=B_GR + B_GR_RAG, BLANK=B_BLANK,
               BWSA=B_BWSA, SAND=B_SAND, ESAN=B_ESAN),
          ORANGE, RED, 0.6, 1.0, (30.3, 22.3, 23.6), [(594, 1038, 126.7, '#444444'), (574, 594, 123.3, '#444444')])

draw_well(C_TRACKS, (654, 746.7, 759.3, 761.7), (303, 766, 794.5, 1216), (1019.1, 1260.3), C_DEPTHS, 331, 15,
          (1019.5, 1256),
          dict(BHC=C_BHC, R25=C_R25, CAL=C_CAL, HAC=C_HAC, RLLD=C_RLLD + C_RLLD_RAG, RMN=C_RMN + C_RMN_RAG,
               RXO=(C_RXO_D, C_RXO_V), DEN=(C_DEN_D, C_DEN_V), SP=C_SP, GR=C_GR + C_GR_RAG, BLANK=C_BLANK,
               BWSA=C_BWSA, SAND=C_SAND, ESAN=C_ESAN),
          RED, ORANGE, 2.5, 2.0, (120, 52, 30.9),
          [(324, 388, 765, '#444444'), (388, 451, 766.5, '#444444'), (451, 770, 765, '#444444')])

# captions and panel letters
for letter, x, y in [('A', 2, 10), ('B', 556, 9.5), ('C', 248, 659.5)]:
    fig.text(x / W, 1 - y / H, letter, ha='left', va='center', fontsize=14.5, fontweight='bold', color='black')
for name, x, y in [('N1-10', 290.5, 595), ('N1-20', 839, 591.7), ('N1-31', 569.6, 1232.3)]:
    fig.text(x / W, 1 - y / H, name, ha='center', va='center', fontsize=8.5, family='Liberation Serif', color='#222222')

fig.savefig('out.png', dpi=100)
